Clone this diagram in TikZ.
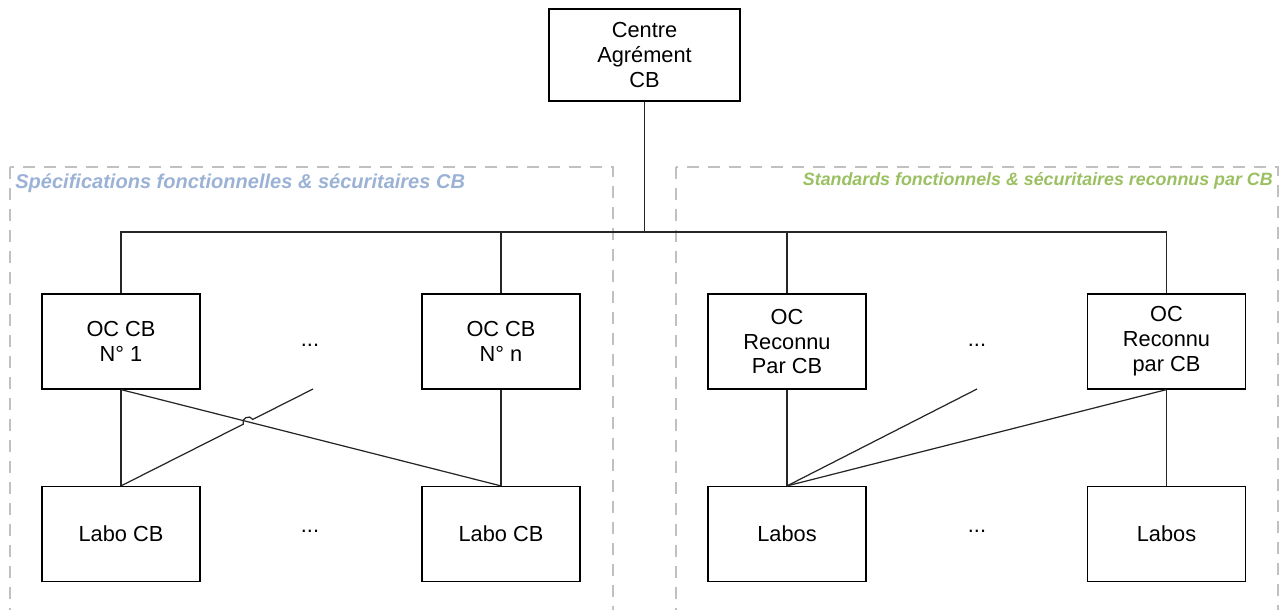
\documentclass[tikz,border=0pt]{standalone}
\usepackage{fontspec}
\setmainfont{Liberation Sans}
\usetikzlibrary{positioning,calc,intersections}

\definecolor{grpgray}{RGB}{192,192,192}
\definecolor{specblue}{RGB}{155,178,214}
\definecolor{stdgreen}{RGB}{155,192,98}

\begin{document}
\begin{tikzpicture}[
  x=0.02cm, y=-0.02cm,
  box/.style={rectangle, draw, line width=0.7pt, minimum width=3.16cm, minimum height=1.9cm, font=\fontsize{12.4}{14.2}\selectfont, align=center, fill=white},
  group/.style={draw=grpgray, line width=0.9pt, dash pattern=on 0.24cm off 0.18cm},
  grouplabel/.style={font=\bfseries\itshape, inner sep=0pt},
  line/.style={line width=0.7pt, draw=black!85},
  dots/.style={font=\fontsize{12.4}{14.2}\selectfont}
]
\clip (0,0) rectangle (1287,609);

% Groups
\draw[group] (10,167) rectangle (613,700);
\draw[group] (676,167) rectangle (1278,700);
\node[grouplabel, anchor=west, text=specblue] (speclbl) at (15,183) {\fontsize{11.4}{13}\selectfont Spécifications fonctionnelles \& sécuritaires CB};
\node[grouplabel, anchor=east, text=stdgreen] (stdlbl) at (1273,181) {\fontsize{10.15}{12}\selectfont Standards fonctionnels \& sécuritaires reconnus par CB};

% Top: Centre
\node[box, minimum width=3.82cm, minimum height=1.84cm] (centre) at (644.5,55) {Centre\\Agrément\\CB};

% Middle: OC
\node[box] (oc1) at (121,341.5) {OC CB\\N° 1};
\node[box] (ocn) at (501,341.5) {OC CB\\N° n};
\node[box] (ocr1) at (787,341.5) {OC\\Reconnu\\Par CB};
\node[box] (ocrn) at (1166.5,341.5) {OC\\Reconnu\\par CB};
\node[dots] (dotsoc) at (310,345) {...};
\node[dots] (dotsocr) at (977,345) {...};

% Bottom: Labos
\node[box] (labo1) at (121,534) {Labo CB};
\node[box] (labon) at (501,534) {Labo CB};
\node[box] (labos1) at (787,534) {Labos};
\node[box] (labosn) at (1166.5,534) {Labos};
\node[dots] (dotslabo) at (310,531) {...};
\node[dots] (dotslabos) at (977,531) {...};

% Tree
\coordinate (bus) at (644.5,232);
\draw[line] (centre) -- (bus);
\draw[line] (oc1.north) |- (bus) -| (ocrn.north);
\draw[line] (ocn.north) -- (ocn.north |- bus);
\draw[line] (ocr1.north) -- (ocr1.north |- bus);

% Left links
\coordinate (lend) at (313,389);
\draw[line] (oc1) -- (labo1);
\draw[line] (ocn) -- (labon);
\draw[line, name path=cross] (oc1.south) -- (labon.north);
\path[name path=rise] (labo1.north) -- (lend);
\path[name intersections={of=cross and rise, by=hop}];
\draw[line] (labo1.north) -- ($(hop)!3pt!(labo1.north)$) to[bend left=90, looseness=1.5] ($(hop)!3pt!(lend)$) -- (lend);

% Right links
\coordinate (rend) at (977,389);
\draw[line] (ocr1) -- (labos1);
\draw[line] (ocrn) -- (labosn);
\draw[line] (labos1.north) -- (rend);
\draw[line] (labos1.north) -- (ocrn.south);

\end{tikzpicture}
\end{document}
